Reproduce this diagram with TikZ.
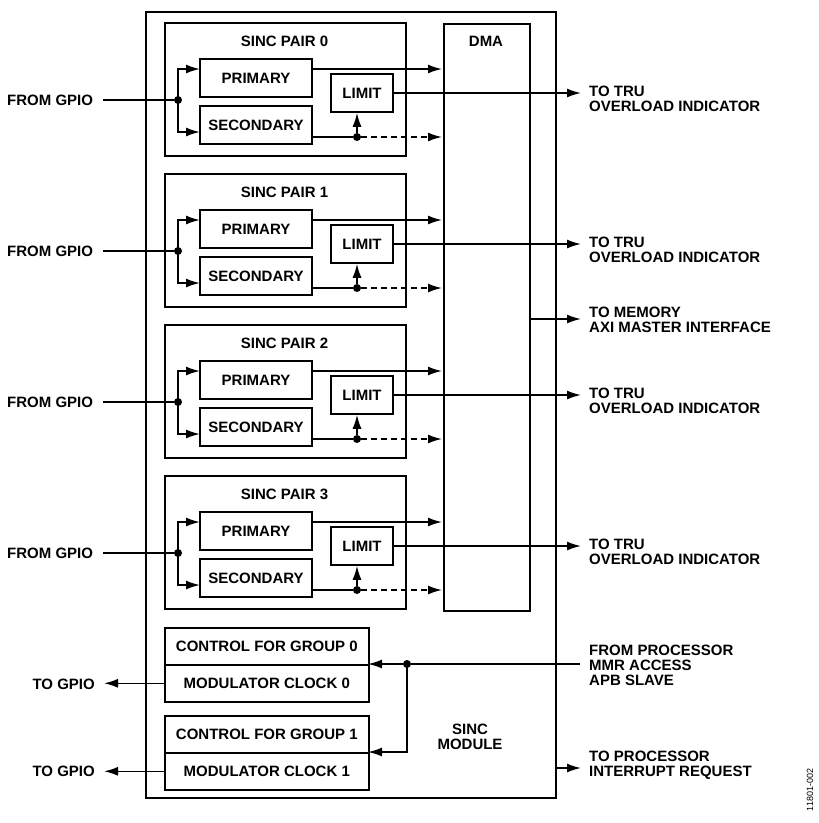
\documentclass[tikz,border=0pt]{standalone}
\usepackage{fontspec}
\setmainfont{Liberation Sans}
\usetikzlibrary{arrows.meta}
\begin{document}
\begin{tikzpicture}[x=1pt,y=-1pt,
 box/.style={draw,line width=1.6pt},
 lbl/.style={font=\bfseries\fontsize{15}{15}\selectfont,inner sep=0pt},
 ln/.style={line width=1.6pt},
 arr/.style={ln,-{Latex[length=14pt,width=9pt]}},
 dot/.style={circle,fill,inner sep=0pt,minimum size=8pt}]
\path[use as bounding box] (0,0) rectangle (819,823);
\node[box,minimum width=410pt,minimum height=786pt,anchor=north west,inner sep=0pt] (outer) at (145,11) {};
\node[box,minimum width=86pt,minimum height=587pt,anchor=north west,inner sep=0pt] (dma) at (443,23) {};
\node[lbl] (dmat) at (486,41) {DMA};
\foreach \k in {0,1,2,3}{
 \begin{scope}[yshift=-151*\k pt]
 \node[box,minimum width=241pt,minimum height=133pt,anchor=north west,inner sep=0pt] (pair\k) at (164,22) {};
 \node[lbl] (pt\k) at (284.5,41) {SINC PAIR \k};
 \node[box,minimum width=112pt,minimum height=38pt,inner sep=0pt,lbl] (pri\k) at (256,78) {PRIMARY};
 \node[box,minimum width=112pt,minimum height=38pt,inner sep=0pt,lbl] (sec\k) at (256,125) {SECONDARY};
 \node[box,minimum width=62pt,minimum height=38pt,inner sep=0pt,lbl] (lim\k) at (362,93) {LIMIT};
 \node[lbl,anchor=west] (fg\k) at (7,100) {FROM GPIO};
 \node[dot] (j\k) at (178,100) {};
 \node[dot] (s\k) at (357,137) {};
 \coordinate (in\k) at (103,100);
 \coordinate (pe\k) at (442,69);
 \coordinate (se\k) at (442,137);
 \coordinate (te\k) at (581,93);
 \node[lbl,anchor=west,align=left] (tt\k) at (589,98.5) {TO TRU\\OVERLOAD INDICATOR};
 \draw[ln] (in\k) -- (j\k);
 \draw[arr] (j\k.center) |- (200,69);
 \draw[arr] (j\k.center) |- (200,132);
 \draw[arr] (312,69) -- (pe\k);
 \draw[ln] (312,137) -- (s\k);
 \draw[arr,dash pattern=on 6pt off 4pt] (s\k) -- (se\k);
 \draw[arr] (s\k) -- (s\k|-lim\k.south);
 \draw[arr] (lim\k.east) -- (te\k);
 \end{scope}}
\coordinate (me) at (581,319);
\draw[arr] (dma.east|-me) -- (me);
\node[lbl,anchor=west,align=left] (mt) at (589,319.5) {TO MEMORY\\AXI MASTER INTERFACE};
\node[box,minimum width=204pt,minimum height=37pt,inner sep=0pt,lbl,anchor=north west] (c0) at (164,627) {CONTROL FOR GROUP 0};
\node[box,minimum width=204pt,minimum height=37pt,inner sep=0pt,lbl,anchor=north west] (m0) at (164,664) {MODULATOR CLOCK 0};
\node[box,minimum width=204pt,minimum height=37pt,inner sep=0pt,lbl,anchor=north west] (c1) at (164,715) {CONTROL FOR GROUP 1};
\node[box,minimum width=204pt,minimum height=37pt,inner sep=0pt,lbl,anchor=north west] (m1) at (164,752) {MODULATOR CLOCK 1};
\node[dot] (pj) at (407,664) {};
\coordinate (ps) at (580,664);
\draw[ln] (ps) -- (pj);
\draw[arr] (pj) -- (368,664);
\draw[arr] (pj.center) |- (368,752);
\node[lbl,anchor=west,align=left] (pt) at (589,665) {FROM PROCESSOR\\MMR ACCESS\\APB SLAVE};
\coordinate (g0) at (104,684);
\coordinate (g1) at (104,771);
\draw[arr] (m0.west) -- (m0.west-|g0);
\draw[arr] (m1.west) -- (m1.west-|g1);
\node[lbl,anchor=east] (gt0) at (95,684) {TO GPIO};
\node[lbl,anchor=east] (gt1) at (95,771) {TO GPIO};
\node[lbl,align=center] (sm) at (470,736.5) {SINC\\MODULE};
\coordinate (ir) at (581,768);
\draw[arr] (outer.east|-ir) -- (ir);
\node[lbl,anchor=west,align=left] (it) at (589,765.5) {TO PROCESSOR\\INTERRUPT REQUEST};
\node[font=\fontsize{9}{10}\selectfont,rotate=90,inner sep=0pt] (fid) at (810,790) {11801-002};
\end{tikzpicture}
\end{document}
